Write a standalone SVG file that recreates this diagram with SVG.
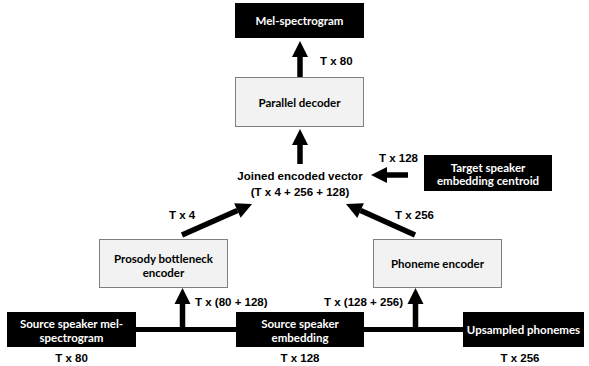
<svg xmlns="http://www.w3.org/2000/svg" width="589" height="366" viewBox="0 0 589 366">
<style>
.blk{fill:#000}
.gry{fill:#f2f2f2;stroke:#7f7f7f;stroke-width:1}
.bl{font-family:Lato,"Open Sans",sans-serif;font-weight:bold;font-size:11.5px;text-anchor:middle;dominant-baseline:central}
.w{fill:#fff}
.k{fill:#000}
.lab{font-family:"Liberation Sans",Arial,sans-serif;font-weight:bold;font-size:11.5px;fill:#000;dominant-baseline:central}
.c{text-anchor:middle}
.e{text-anchor:end}
.ar{stroke:#000;stroke-width:5.5;fill:none;marker-end:url(#ah)}
.ln{stroke:#000;stroke-width:5;fill:none}
</style>
<defs>
<marker id="ah" markerUnits="userSpaceOnUse" markerWidth="17" markerHeight="17" refX="0" refY="8" orient="auto" overflow="visible">
<path d="M0,0 L16,8 L0,16 z" fill="#000"/>
</marker>
</defs>
<rect width="589" height="366" fill="#fff"/>
<g id="connectors">
<line class="ar" x1="300" y1="77" x2="300" y2="57"/>
<line class="ar" x1="300" y1="164" x2="300" y2="145"/>
<line class="ar" x1="408" y1="175" x2="387" y2="175"/>
<line class="ar" x1="182" y1="235" x2="237.4" y2="210.5"/>
<line class="ar" x1="415" y1="235" x2="360.6" y2="210.6"/>
<line class="ln" x1="136" y1="329.5" x2="236" y2="329.5"/>
<line class="ln" x1="364" y1="329.5" x2="463" y2="329.5"/>
<line class="ar" x1="182.5" y1="332" x2="182.5" y2="304"/>
<line class="ar" x1="415.5" y1="332" x2="415.5" y2="304"/>
<text class="lab" x="320" y="61">T x 80</text>
<text class="lab" x="379" y="158">T x 128</text>
<text class="lab" x="169" y="215">T x 4</text>
<text class="lab" x="395" y="215">T x 256</text>
<text class="lab" x="195" y="302">T x (80 + 128)</text>
<text class="lab e" x="403" y="302">T x (128 + 256)</text>
</g>
<g id="mel">
<rect class="blk" x="235" y="3" width="129" height="35"/>
<text class="bl w" x="299.5" y="20.5">Mel-spectrogram</text>
</g>
<g id="decoder">
<rect class="gry" x="235.5" y="77.5" width="128" height="49"/>
<text class="bl k" x="299.5" y="102">Parallel decoder</text>
</g>
<g id="joined">
<text class="lab c" x="300" y="176">Joined encoded vector</text>
<text class="lab c" x="300" y="192">(T x 4 + 256 + 128)</text>
</g>
<g id="target">
<rect class="blk" x="424" y="155" width="128" height="36"/>
<text class="bl w" x="488" y="167">Target speaker</text>
<text class="bl w" x="488" y="180.5">embedding centroid</text>
</g>
<g id="prosody">
<rect class="gry" x="99.5" y="239.5" width="128" height="48"/>
<text class="bl k" x="163.5" y="258">Prosody bottleneck</text>
<text class="bl k" x="163.5" y="272">encoder</text>
</g>
<g id="phoneme">
<rect class="gry" x="373.5" y="239.5" width="128" height="48"/>
<text class="bl k" x="437.5" y="263.5">Phoneme encoder</text>
</g>
<g id="srcmel">
<rect class="blk" x="7" y="312" width="129" height="35"/>
<text class="bl w" x="71.5" y="323">Source speaker mel-</text>
<text class="bl w" x="71.5" y="337">spectrogram</text>
<text class="lab c" x="71.5" y="358">T x 80</text>
</g>
<g id="srcemb">
<rect class="blk" x="236" y="312" width="128" height="35"/>
<text class="bl w" x="300" y="323">Source speaker</text>
<text class="bl w" x="300" y="337">embedding</text>
<text class="lab c" x="300" y="358">T x 128</text>
</g>
<g id="upsampled">
<rect class="blk" x="463" y="312" width="121" height="35"/>
<text class="bl w" x="523.5" y="329.5">Upsampled phonemes</text>
<text class="lab c" x="520" y="358">T x 256</text>
</g>
</svg>
